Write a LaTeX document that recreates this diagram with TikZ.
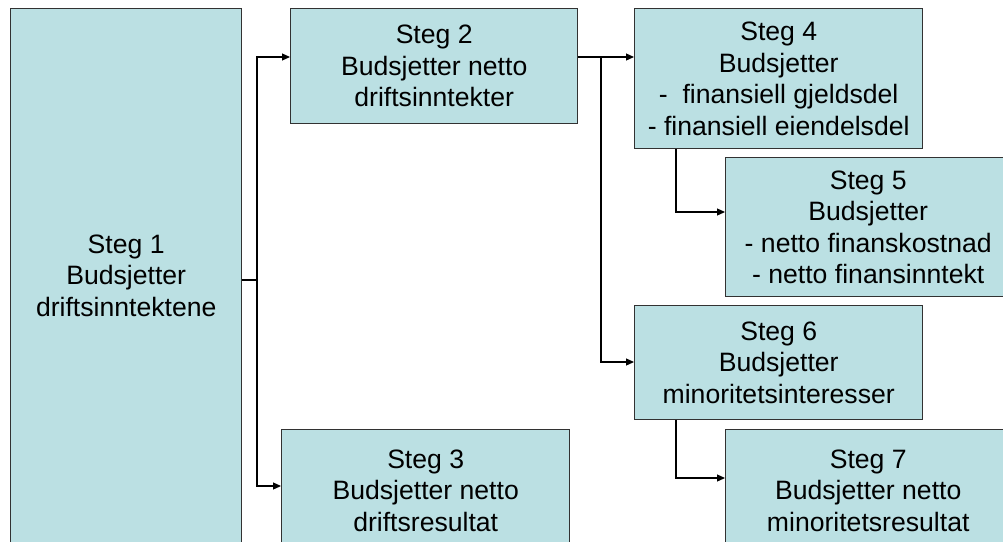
\documentclass[tikz,border=0pt]{standalone}
\usepackage{fontspec}
\setmainfont{Liberation Sans}
\usetikzlibrary{arrows.meta}
\definecolor{boxfill}{RGB}{187,224,227}
\definecolor{boxline}{RGB}{50,50,50}
\begin{document}
\begin{tikzpicture}[x=1pt,y=-1pt,
  box/.style={draw=boxline, line width=1.4pt, fill=boxfill, align=center,
    font=\fontsize{26.6}{31.5}\selectfont, inner sep=0pt, anchor=north west},
  link/.style={line width=1.2pt, draw=black},
  conn/.style={link, -{Triangle[length=8pt,width=7pt]}}]
\useasboundingbox (0,0) rectangle (1003,541);
\clip (0,0) rectangle (1003,541);
\node[box, minimum width=231pt, minimum height=534pt] (s1) at (10,8) {Steg 1\\Budsjetter\\driftsinntektene};
\node[box, minimum width=287pt, minimum height=115pt] (s2) at (290,8) {Steg 2\\Budsjetter netto\\driftsinntekter};
\node[box, minimum width=288pt, minimum height=140pt] (s4) at (634,8) {Steg 4\\Budsjetter\\-\ \ finansiell gjeldsdel\\- finansiell eiendelsdel};
\node[box, minimum width=285pt, minimum height=139pt] (s5) at (725,157) {Steg 5\\Budsjetter\\- netto finanskostnad\\- netto finansinntekt};
\node[box, minimum width=288pt, minimum height=114pt] (s6) at (634,305) {Steg 6\\Budsjetter\\minoritetsinteresser};
\node[box, minimum width=288pt, minimum height=122pt] (s3) at (281,429) {Steg 3\\Budsjetter netto\\driftsresultat};
\node[box, minimum width=285pt, minimum height=122pt] (s7) at (725,429) {Steg 7\\Budsjetter netto\\minoritetsresultat};
% junctions
\coordinate (j1) at (257,280);
\coordinate (a2) at (257,57);
\coordinate (a3) at (257,486);
\coordinate (j2) at (601,57);
\coordinate (a6) at (601,362);
\coordinate (b4) at (676,148);
\coordinate (a5) at (676,212);
\coordinate (b6) at (676,419);
\coordinate (a7) at (676,478);
\draw[link] (s1.east |- j1) -- (j1);
\draw[conn] (j1) -- (a2) -- (a2 -| s2.west);
\draw[conn] (j1) -- (a3) -- (a3 -| s3.west);
\draw[conn] (s2.east |- j2) -- (j2 -| s4.west);
\draw[conn] (j2) -- (a6) -- (a6 -| s6.west);
\draw[conn] (b4 |- s4.south) -- (a5) -- (a5 -| s5.west);
\draw[conn] (b6 |- s6.south) -- (a7) -- (a7 -| s7.west);
\end{tikzpicture}
\end{document}
